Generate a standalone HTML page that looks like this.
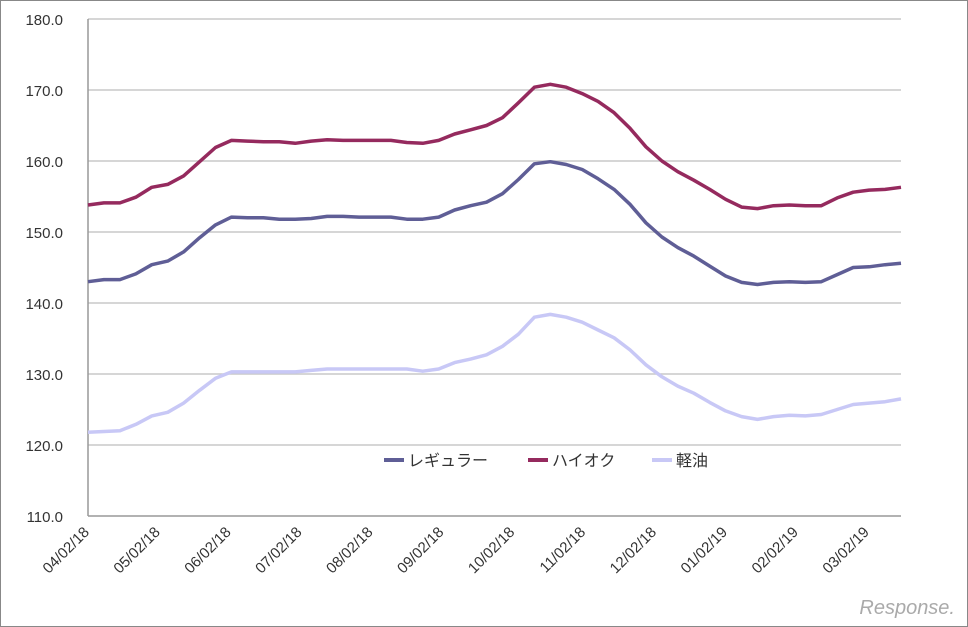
<!DOCTYPE html>
<html><head><meta charset="utf-8"><style>
body{margin:0;background:#fff}
svg{display:block;font-family:"Liberation Sans","Noto Sans CJK JP",sans-serif}
</style></head><body>
<svg id="chart" width="968" height="627" viewBox="0 0 968 627">
<rect x="0.5" y="0.5" width="967" height="626" fill="#fff" stroke="#888"/>
<g id="grid"></g><g id="ylab"></g><g id="xlab"></g><g id="series"></g>
<g font-size="16" fill="#333">
<line x1="384" y1="460" x2="404" y2="460" stroke="#5f5e96" stroke-width="4"/>
<text x="408" y="466">レギュラー</text>
<line x1="528" y1="460" x2="548" y2="460" stroke="#952a5e" stroke-width="4"/>
<text x="552" y="466">ハイオク</text>
<line x1="652" y1="460" x2="672" y2="460" stroke="#c8c8f6" stroke-width="4"/>
<text x="676" y="466">軽油</text>
</g>
<text x="955" y="614" text-anchor="end" font-size="20" fill="#aaa" font-style="italic">Response.</text>
</svg>
<script>
const yTicks=[110,120,130,140,150,160,170,180];
const xLabels=["04/02/18","05/02/18","06/02/18","07/02/18","08/02/18","09/02/18","10/02/18","11/02/18","12/02/18","01/02/19","02/02/19","03/02/19"];
const regular=[143.0,143.3,143.3,144.1,145.4,145.9,147.2,149.2,151.0,152.1,152.0,152.0,151.8,151.8,151.9,152.2,152.2,152.1,152.1,152.1,151.8,151.8,152.1,153.1,153.7,154.2,155.4,157.4,159.6,159.9,159.5,158.8,157.5,156.0,153.9,151.3,149.3,147.8,146.6,145.2,143.8,142.9,142.6,142.9,143.0,142.9,143.0,144.0,145.0,145.1,145.4,145.6];
const highOctane=[153.8,154.1,154.1,154.9,156.3,156.7,157.9,159.9,161.9,162.9,162.8,162.7,162.7,162.5,162.8,163.0,162.9,162.9,162.9,162.9,162.6,162.5,162.9,163.8,164.4,165.0,166.1,168.2,170.4,170.8,170.4,169.5,168.4,166.8,164.6,162.0,160.0,158.5,157.3,156.0,154.6,153.5,153.3,153.7,153.8,153.7,153.7,154.8,155.6,155.9,156.0,156.3];
const diesel=[121.8,121.9,122.0,122.9,124.1,124.6,125.9,127.7,129.4,130.3,130.3,130.3,130.3,130.3,130.5,130.7,130.7,130.7,130.7,130.7,130.7,130.4,130.7,131.6,132.1,132.7,133.9,135.6,138.0,138.4,138.0,137.3,136.2,135.1,133.4,131.3,129.6,128.3,127.3,126.0,124.8,124.0,123.6,124.0,124.2,124.1,124.3,125.0,125.7,125.9,126.1,126.5];
const NS="http://www.w3.org/2000/svg";
const X0=88,X1=901,Y0=516,Y1=19,VMIN=110,VMAX=180;
const y=v=>Y0-(v-VMIN)/(VMAX-VMIN)*(Y0-Y1);
const x=(i,n)=>X0+i*(X1-X0)/(n-1);
function mk(t,a,p){const e=document.createElementNS(NS,t);for(const k in a)e.setAttribute(k,a[k]);p.appendChild(e);return e;}
const grid=document.getElementById('grid'),ylab=document.getElementById('ylab'),xlab=document.getElementById('xlab'),ser=document.getElementById('series');
yTicks.forEach(v=>{
  if(v>VMIN){const g=mk('line',{x1:X0,x2:X1,y1:y(v),y2:y(v),stroke:'#c8c8c8','stroke-width':1.5},grid);
  
  }
  const t=mk('text',{x:63,y:y(v)+6,'text-anchor':'end','font-size':15,fill:'#333'},ylab);
  
  
  t.textContent=v.toFixed(1);
});
const ax=mk('line',{x1:X0,x2:X0,y1:Y1,y2:Y0,stroke:'#999','stroke-width':1.5},grid);


const bx=mk('line',{x1:X0,x2:X1,y1:Y0,y2:Y0,stroke:'#999','stroke-width':1.5},grid);


xLabels.forEach((s,k)=>{
  const px=X0+2+k*70.9,py=533;
  const t=mk('text',{x:px,y:py,'text-anchor':'end','font-size':15,fill:'#333',transform:`rotate(-45 ${px} ${py})`},xlab);
  
  
  t.textContent=s;
});
[[regular,'#5f5e96','regular'],[highOctane,'#952a5e','high-octane'],[diesel,'#c8c8f6','diesel']].forEach(([d,c,n])=>{
  const pts=d.map((v,i)=>x(i,d.length).toFixed(1)+','+y(v).toFixed(1)).join(' ');
  const p=mk('polyline',{points:pts,fill:'none',stroke:c,'stroke-width':3.5,'stroke-linejoin':'round'},ser);
  
  
});
</script>
</body></html>
